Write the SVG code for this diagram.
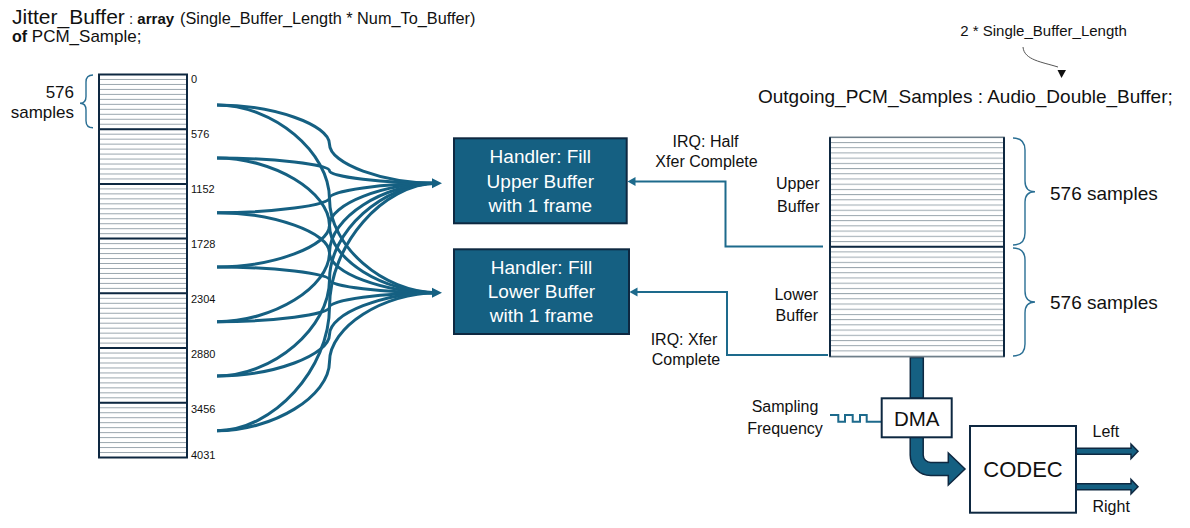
<svg xmlns="http://www.w3.org/2000/svg" width="1190" height="528" viewBox="0 0 1190 528">
<style>
.t{font-family:"Liberation Sans",Arial,sans-serif;fill:#111}
.w{font-family:"Liberation Sans",Arial,sans-serif;fill:#fff;font-size:19px;text-anchor:middle}
.conn{fill:none;stroke:#156082;stroke-width:3}
.irq{fill:none;stroke:#1d6a8c;stroke-width:2}
.brace{fill:none;stroke:#2a6f94;stroke-width:1.4}
.dark{fill:none;stroke:#0E2841;stroke-width:2}
.bus{fill:#156082;stroke:#0E2841;stroke-width:1.5}
.hd{fill:#156082}
</style>
<defs>
<pattern id="pl" patternUnits="userSpaceOnUse" x="99" y="74" width="88" height="4.974"><rect x="0" y="0" width="88" height="1" fill="#9aa6ae"/></pattern>
<pattern id="pr" patternUnits="userSpaceOnUse" x="830" y="136.8" width="174" height="5.21"><rect x="0" y="0" width="174" height="1" fill="#9aa6ae"/></pattern>
</defs>
<rect width="1190" height="528" fill="#fff"/>

<g id="title">
<text class="t" x="12" y="24"><tspan font-size="21">Jitter_Buffer</tspan><tspan font-size="15"> : </tspan><tspan font-size="15" font-weight="bold">array</tspan><tspan x="180" font-size="16.3">(Single_Buffer_Length * Num_To_Buffer)</tspan></text>
<text class="t" x="12" y="41.5"><tspan font-size="16" font-weight="bold">of</tspan><tspan font-size="17"> PCM_Sample;</tspan></text>
</g>

<g id="jitter_buffer">
<rect x="99" y="74.5" width="88" height="383" fill="url(#pl)"/>
<rect x="99" y="74.5" width="88" height="383" class="dark"/>
<path d="M99,129.2H187M99,183.9H187M99,238.6H187M99,293.3H187M99,348H187M99,402.7H187" class="dark"/>
<g class="t" font-size="11">
<text x="191" y="82.5">0</text>
<text x="191" y="138">576</text>
<text x="191" y="193">1152</text>
<text x="191" y="248">1728</text>
<text x="191" y="303">2304</text>
<text x="191" y="358">2880</text>
<text x="191" y="412.7">3456</text>
<text x="191" y="459">4031</text>
</g>
<path class="brace" d="M93,75 Q86,75 86,82 L86,96.5 Q86,103.3 80,103.3 Q86,103.3 86,110 L86,120.7 Q86,127.7 93,127.7"/>
<text class="t" x="74" y="98.3" font-size="17" text-anchor="end">576</text>
<text class="t" x="74" y="117.5" font-size="17" text-anchor="end">samples</text>
</g>

<g id="connectors">
<path class="conn" d="M217,105 C273.25,105 329.5,124.6 329.5,144.2 C329.5,163.7 383.25,183.3 437,183.3"/>
<path class="conn" d="M217,105 C273.25,105 329.5,151.9 329.5,198.9 C329.5,245.8 383.25,292.7 437,292.7"/>
<path class="conn" d="M217,158 C273.25,158 329.5,164.3 329.5,170.7 C329.5,177 383.25,183.3 437,183.3"/>
<path class="conn" d="M217,158 C273.25,158 329.5,191.7 329.5,225.4 C329.5,259 383.25,292.7 437,292.7"/>
<path class="conn" d="M217,212.7 C273.25,212.7 329.5,205.35 329.5,198 C329.5,190.65 383.25,183.3 437,183.3"/>
<path class="conn" d="M217,212.7 C273.25,212.7 329.5,232.7 329.5,252.7 C329.5,272.7 383.25,292.7 437,292.7"/>
<path class="conn" d="M217,267 C273.25,267 329.5,246.1 329.5,225.2 C329.5,204.2 383.25,183.3 437,183.3"/>
<path class="conn" d="M217,267 C273.25,267 329.5,273.4 329.5,279.9 C329.5,286.3 383.25,292.7 437,292.7"/>
<path class="conn" d="M217,321.7 C273.25,321.7 329.5,287.1 329.5,252.5 C329.5,217.9 383.25,183.3 437,183.3"/>
<path class="conn" d="M217,321.7 C273.25,321.7 329.5,314.45 329.5,307.2 C329.5,299.95 383.25,292.7 437,292.7"/>
<path class="conn" d="M217,376 C273.25,376 329.5,327.8 329.5,279.7 C329.5,231.5 383.25,183.3 437,183.3"/>
<path class="conn" d="M217,376 C273.25,376 329.5,355.2 329.5,334.4 C329.5,313.5 383.25,292.7 437,292.7"/>
<path class="conn" d="M217,430.7 C273.25,430.7 329.5,368.85 329.5,307 C329.5,245.15 383.25,183.3 437,183.3"/>
<path class="conn" d="M217,430.7 C273.25,430.7 329.5,396.2 329.5,361.7 C329.5,327.2 383.25,292.7 437,292.7"/>
<polygon class="hd" points="432,178.3 442,183.3 432,188.3"/>
<polygon class="hd" points="432,287.7 442,292.7 432,297.7"/>
<polyline class="irq" points="823,246.5 725.5,246.5 725.5,181.5 634,181.5"/>
<polygon points="627.5,181.5 635.5,177 635.5,186" fill="#1d6a8c"/>
<polyline class="irq" points="828,355 727,355 727,292 636,292"/>
<polygon points="629.5,292 637.5,287.5 637.5,296.5" fill="#1d6a8c"/>
<path d="M1023,47 C1024,60 1042,62 1058,67" fill="none" stroke="#555" stroke-width="1"/>
<polygon points="1057.5,70 1066,70 1061.5,78" fill="#111"/>
<rect class="bus" x="910.3" y="357.5" width="13" height="40.8"/>
<path class="bus" d="M910.2,437.3 L910.2,455 A20.5,20.5 0 0 0 930.7,475.5 L948.3,475.5 L948.3,485 L965,469 L948.3,453 L948.3,462.5 L930.7,462.5 A7.5,7.5 0 0 1 923.2,455 L923.2,437.3 Z"/>
<path class="bus" d="M1076,448.3 L1131,448.3 L1131,444 L1138,451.3 L1131,458.6 L1131,454.3 L1076,454.3 Z"/>
<path class="bus" d="M1076,483.7 L1131,483.7 L1131,479.4 L1138,486.7 L1131,494 L1131,489.7 L1076,489.7 Z"/>
<polyline points="830,415 838.3,415 838.3,421.7 845,421.7 845,415 852.7,415 852.7,421.7 860,421.7 860,415 866.7,415 866.7,421.7 882,421.7" fill="none" stroke="#1d6a8c" stroke-width="2"/>
</g>

<g id="irq_labels" class="t" font-size="16" text-anchor="middle">
<text x="705.5" y="147.3">IRQ: Half</text>
<text x="706.5" y="167">Xfer Complete</text>
<text x="684" y="345">IRQ: Xfer</text>
<text x="686" y="364.5">Complete</text>
</g>

<g id="handler_upper">
<rect x="454" y="138.3" width="172.7" height="85" fill="#156082" stroke="#0E2841" stroke-width="2"/>
<text class="w" x="540.3" y="163">Handler: Fill</text>
<text class="w" x="540.3" y="187.5">Upper Buffer</text>
<text class="w" x="540.3" y="211.7">with 1 frame</text>
</g>

<g id="handler_lower">
<rect x="454" y="249.3" width="175" height="84.7" fill="#156082" stroke="#0E2841" stroke-width="2"/>
<text class="w" x="541.5" y="274">Handler: Fill</text>
<text class="w" x="541.5" y="298.3">Lower Buffer</text>
<text class="w" x="541.5" y="322.3">with 1 frame</text>
</g>

<g id="double_buffer">
<text class="t" x="1043.5" y="35.5" font-size="15" text-anchor="middle">2 * Single_Buffer_Length</text>
<text class="t" x="758" y="103" font-size="19">Outgoing_PCM_Samples : Audio_Double_Buffer;</text>
<rect x="830" y="137.3" width="174" height="219.4" fill="url(#pr)"/>
<rect x="830" y="137.3" width="174" height="219.4" fill="none" stroke="#6f7f8a" stroke-width="1.5"/>
<path d="M830,137.3V356.7M1004,137.3V356.7M830,246.7H1004" class="dark" stroke-width="2.4"/>
<g class="t" font-size="16" text-anchor="end">
<text x="819.5" y="189">Upper</text>
<text x="819.5" y="211.7">Buffer</text>
<text x="818" y="300">Lower</text>
<text x="818" y="320.7">Buffer</text>
</g>
<path class="brace" d="M1013,138 Q1025,138 1025,150 L1025,181 Q1025,191.7 1035,191.7 Q1025,191.7 1025,202 L1025,233 Q1025,245 1013,245"/>
<path class="brace" d="M1013,248 Q1025,248 1025,260 L1025,291 Q1025,302 1035,302 Q1025,302 1025,313 L1025,344 Q1025,356 1013,356"/>
<text class="t" x="1050" y="200" font-size="19">576 samples</text>
<text class="t" x="1050" y="309.3" font-size="19">576 samples</text>
</g>

<g id="dma">
<rect x="881.7" y="398.3" width="70" height="39" fill="#fff" stroke="#0E2841" stroke-width="2"/>
<text class="t" x="916.7" y="426" font-size="20.5" text-anchor="middle">DMA</text>
<text class="t" x="785" y="412" font-size="16" text-anchor="middle">Sampling</text>
<text class="t" x="785" y="434" font-size="16" text-anchor="middle">Frequency</text>
</g>

<g id="codec">
<rect x="970" y="426" width="106" height="86.7" fill="#fff" stroke="#0E2841" stroke-width="2"/>
<text class="t" x="1023" y="476.7" font-size="22" text-anchor="middle">CODEC</text>
<text class="t" x="1092.5" y="436.7" font-size="16">Left</text>
<text class="t" x="1092.5" y="512" font-size="16">Right</text>
</g>
</svg>
